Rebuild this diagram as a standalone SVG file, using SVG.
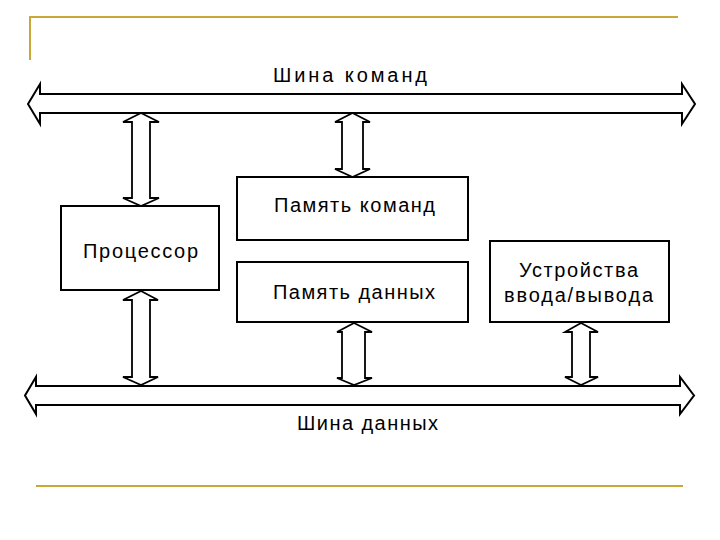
<svg xmlns="http://www.w3.org/2000/svg" width="720" height="540" viewBox="0 0 720 540">
<style>
.frame{fill:none;stroke:#c8a838;stroke-width:2}
.bus{fill:#fff;stroke:#000;stroke-width:2;stroke-linejoin:miter}
.arr{fill:#fff;stroke:#000;stroke-width:1.8;stroke-linejoin:miter}
.box{fill:#fff;stroke:#000;stroke-width:2}
.t{font-family:"Liberation Sans",Arial,sans-serif;font-size:20px;fill:#000}
</style>
<rect width="720" height="540" fill="#fff"/>
<g id="frame">
<polyline class="frame" points="30,60 30,17 678,17"/>
<line class="frame" x1="36" y1="486" x2="683" y2="486"/>
</g>
<g id="connectors">
<polygon id="bus-cmd" class="bus" points="40,94 682,94 682,84 695,104 682,124 682,113 40,113 40,124 28,104 40,84"/>
<polygon id="bus-data" class="bus" points="36,386 680,386 680,377 694,395.5 680,414 680,405 36,405 36,414 25,395.5 36,377"/>
<polygon class="arr" points="141,113 159,122 150,122 150,198 159,198 141,206 123,198 132,198 132,122 123,122"/>
<polygon class="arr" points="141,291 158,300 150,300 150,377 158,377 141,385 123,377 132,377 132,300 123,300"/>
<polygon class="arr" points="352.5,113 370,122 363,122 363,169 370,169 352.5,177 335,169 342,169 342,122 335,122"/>
<polygon class="arr" points="354,323 372,332 365,332 365,378 372,378 354,385 337,378 342,378 342,332 337,332"/>
<polygon class="arr" points="581,323 598,332 590,332 590,377 598,377 581,385 565,377 572,377 572,332 565,332"/>
</g>
<g id="bus-cmd-label"><text class="t" x="273" y="82" textLength="154" lengthAdjust="spacing">Шина команд</text></g>
<g id="bus-data-label"><text class="t" x="297" y="430" textLength="141" lengthAdjust="spacing">Шина данных</text></g>
<g id="cpu">
<rect class="box" x="61" y="206" width="158" height="84"/>
<text class="t" x="83" y="258" textLength="115" lengthAdjust="spacing">Процессор</text>
</g>
<g id="mem-cmd">
<rect class="box" x="237" y="177" width="231" height="63"/>
<text class="t" x="274" y="212" textLength="161" lengthAdjust="spacing">Память команд</text>
</g>
<g id="mem-data">
<rect class="box" x="237" y="262" width="231" height="60"/>
<text class="t" x="273" y="299" textLength="162" lengthAdjust="spacing">Память данных</text>
</g>
<g id="io">
<rect class="box" x="490" y="241" width="179" height="81"/>
<text class="t" x="519" y="277" textLength="119" lengthAdjust="spacing">Устройства</text>
<text class="t" x="504" y="302" textLength="149" lengthAdjust="spacing">ввода/вывода</text>
</g>
</svg>
